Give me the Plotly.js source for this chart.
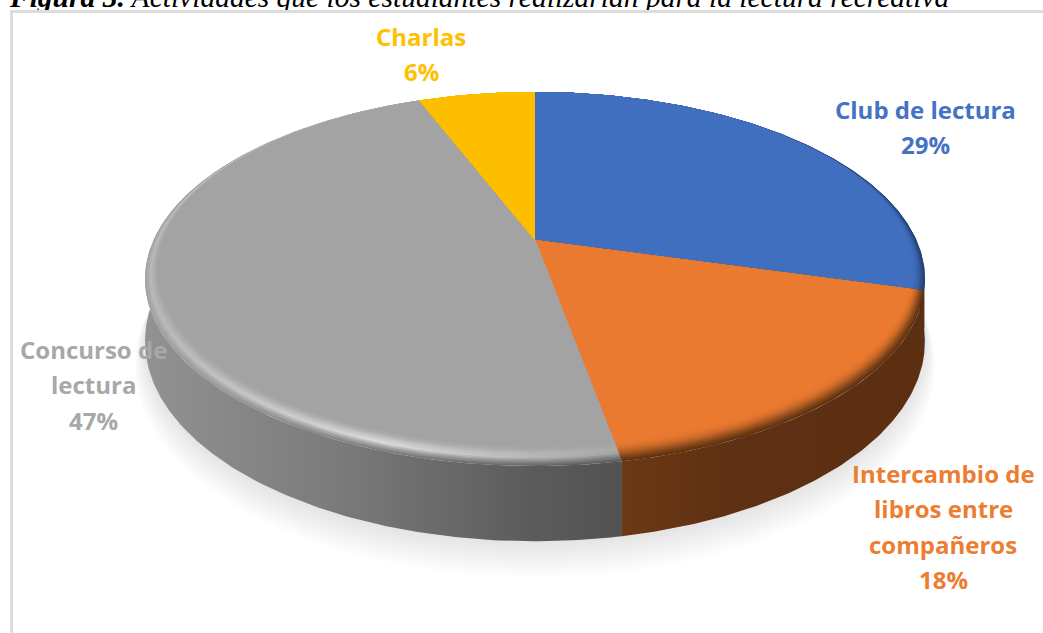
<!DOCTYPE html>
<html><head><meta charset="utf-8">
<script src="https://cdn.plot.ly/plotly-3.0.1.min.js"></script>
<style>html,body{margin:0;padding:0;background:#fff;overflow:hidden}#c{width:1043px;height:633px}</style>
</head><body><div id="c"></div>
<script>
const categories = ["Club de lectura", "Intercambio de libros entre compañeros", "Concurso de lectura", "Charlas"];
const values = [29.3, 17.8, 47.0, 5.9];
const labelLines = [["Club de lectura"], ["Intercambio de", "libros entre", "compañeros"], ["Concurso de", "lectura"], ["Charlas"]];
const topColors = ["#416fbf", "#ea7a30", "#a3a3a3", "#fdbe00"];
const labelColors = ["#4472c4", "#ed7d31", "#a8a8a8", "#ffc000"];
const labelCentres = [[925, 109], [943, 473], [93, 349], [421, 36]];
const lineStep = 35.5;
const wallScales = [
  [[0, "#27426f"], [1, "#1f3a68"]],
  [[0, "#6b3915"], [0.35, "#5f3013"], [1, "#5c2e12"]],
  [[0, "#929292"], [0.4, "#7b7b7b"], [0.8, "#5c5c5c"], [1, "#525252"]],
  [[0, "#a07800"], [1, "#a07800"]]
];
// bevel profile, outermost first: radial inset at the front of the disc, then left/middle/right colour
const bevelInsets = [0, 0.014, 0.028, 0.042, 0.056];
const bevelLeft = ["#a2a2a2", "#acacac", "#b8b8b8", "#b0b0b0", "#a8a8a8"];
const bevelMid = ["#7a7a7a", "#a4a4a4", "#dcdcdc", "#c8c8c8", "#aeaeae"];
const bevelRight = ["#5a5a5a", "#7c7c7c", "#a0a0a0", "#aaaaaa", "#a5a5a5"];
const bevelBlue = ["#24406f", "#2c4d8a", "#355da4", "#3b67b3", "#3f6cbb"];
const bevelOrange = ["#60310f", "#7f4318", "#a85a23", "#cf6c2a", "#e3762e"];
const bevelYellow = ["#fdbe00", "#fdbe00", "#fdbe00", "#fdbe00", "#fdbe00"];
const insetFull = 0.07;
const shadowOffsets = [26, 24, 22, 20, 18, 16, 14, 12, 10, 8, 6, 4, 2];
const titleBold = "Figura 3.";
const titleRest = " Actividades que los estudiantes realizarían para la lectura recreativa";

// perspective of the disc
const cx = 535, cy = 240, a = 381.4, b = 178.9, k = 0.2086, wallH = 59.5;
function project(thetaDeg, r, drop) {
  const t = thetaDeg * Math.PI / 180, u = r * Math.sin(t), v = -r * Math.cos(t), w = 1 - k * v;
  return [cx + a * u / w, cy + b * v / w + (drop || 0) / w];
}
const inset = (d, m) => 1 - m * Math.pow((1 - Math.cos(d * Math.PI / 180)) / 2, 1.5);
function arc(from, to, rf, drop) {
  const n = Math.max(2, Math.ceil(Math.abs(to - from) * 1.5)), pts = [];
  for (let i = 0; i <= n; i++) { const d = from + (to - from) * i / n; pts.push(project(d, rf(d), drop)); }
  return pts;
}
const hex = c => [1, 3, 5].map(i => parseInt(c.substr(i, 2), 16));
const mix = (c1, c2, f) => { const p = hex(c1), q = hex(c2); return "rgb(" + p.map((v, i) => Math.round(v + (q[i] - v) * f)).join(",") + ")"; };
const traces = [];
function poly(pts, extra) {
  traces.push(Object.assign({ x: pts.map(p => p[0]), y: pts.map(p => p[1]), type: "scatter", mode: "lines", fill: "toself",
    line: { width: 0 }, hoverinfo: "skip", showlegend: false }, extra));
}
const total = values.reduce((s, v) => s + v, 0);
const starts = []; let acc = 0;
values.forEach(v => { starts.push(acc / total * 360); acc += v; });
const ends = starts.map((s, i) => s + values[i] / total * 360);

// soft shadow under the disc
shadowOffsets.forEach(o => {
  poly(arc(0, 360, () => 1 + o * 0.001, wallH + o * 0.85), { fillcolor: "rgba(0,0,0,0.0095)" });
});
// side wall
values.forEach((v, i) => {
  const one = () => 1;
  const pts = arc(starts[i], ends[i], one, 0).concat(arc(ends[i], starts[i], one, wallH));
  const xs = pts.map(p => p[0]);
  poly(pts, { fillgradient: { type: "horizontal", colorscale: wallScales[i], start: Math.min(...xs), stop: Math.max(...xs) } });
});
// top slices with a smooth bevel (three sub-steps between profile stops)
const flatProfiles = [bevelBlue, bevelOrange, null, bevelYellow];
const SUB = 3;
values.forEach((v, i) => {
  for (let j = 0; j < bevelInsets.length; j++) {
    const nextT = j + 1 < bevelInsets.length ? bevelInsets[j + 1] : insetFull;
    for (let s = 0; s < SUB; s++) {
      const f = s / SUB, m = bevelInsets[j] + (nextT - bevelInsets[j]) * f;
      const pts = [[cx, cy]].concat(arc(starts[i], ends[i], d => inset(d, m)));
      const at = (arr, end) => mix(arr[j], j + 1 < arr.length ? arr[j + 1] : end, f);
      if (flatProfiles[i]) poly(pts, { fillcolor: at(flatProfiles[i], topColors[i]) });
      else poly(pts, { fillgradient: { type: "horizontal", start: 146, stop: 625,
        colorscale: [[0, at(bevelLeft, topColors[i])], [0.5, at(bevelMid, topColors[i])], [1, at(bevelRight, topColors[i])]] } });
    }
  }
  poly([[cx, cy]].concat(arc(starts[i], ends[i], d => inset(d, insetFull))), { fillcolor: topColors[i], name: categories[i] });
});
// title, clipped by the chart frame as in the source
traces.push({ x: [10], y: [-0.5], yaxis: "y2", type: "scatter", mode: "text", textposition: "middle right", cliponaxis: true,
  text: ["<b><i>" + titleBold + "</i></b><i>" + titleRest + "</i>"],
  textfont: { family: "Liberation Serif", size: 29.5, color: "#000" }, hoverinfo: "skip", showlegend: false });

const annotations = [];
labelLines.forEach((lines, i) => {
  lines.concat([Math.round(values[i]) + "%"]).forEach((t, j) => annotations.push({
    x: labelCentres[i][0], y: labelCentres[i][1] + j * lineStep, text: t, showarrow: false, xanchor: "center", yanchor: "middle",
    font: { family: "Open Sans", size: 24, color: labelColors[i], weight: 700 } }));
});
const hidden = { visible: false, fixedrange: true };
Plotly.newPlot("c", traces, {
  width: 1043, height: 633, margin: { l: 0, r: 0, t: 0, b: 0 }, paper_bgcolor: "#fff", plot_bgcolor: "rgba(0,0,0,0)", showlegend: false,
  xaxis: Object.assign({ range: [0, 1043] }, hidden),
  yaxis: Object.assign({ range: [633, 0], domain: [0, 1] }, hidden),
  yaxis2: Object.assign({ range: [10, 0], domain: [623 / 633, 1], anchor: "x" }, hidden),
  shapes: [{ type: "rect", xref: "x", yref: "y", x0: 11.5, y0: 11.5, x1: 1100, y1: 700, line: { color: "#dcdcdc", width: 3 }, fillcolor: "rgba(0,0,0,0)", layer: "below" }],
  annotations
}, { displayModeBar: false, staticPlot: true });
</script></body></html>
